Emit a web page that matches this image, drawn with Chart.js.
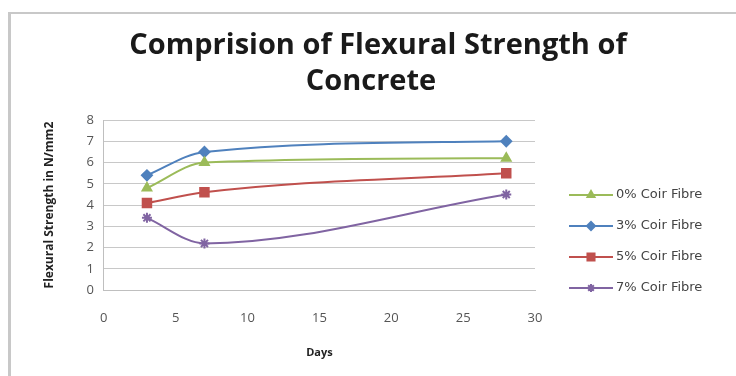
<!DOCTYPE html>
<html>
<head>
<meta charset="utf-8">
<script src="https://cdn.jsdelivr.net/npm/chart.js@4.4.0/dist/chart.umd.min.js"></script>
<style>
  html, body { margin: 0; padding: 0; background: #fff; }
  #wrap { position: relative; width: 736px; height: 376px; overflow: hidden; }
  #frame { position: absolute; left: 8px; top: 12px; right: -2px; bottom: -2px;
           border-left: 3px solid #c8c8c8; border-top: 2px solid #c8c8c8; }
  canvas { position: absolute; left: 0; top: 0; }
</style>
</head>
<body>
<div id="wrap">
  <div id="frame"></div>
  <canvas id="myChart" width="736" height="376"></canvas>
</div>
<script>
// data
const days = [3, 7, 28];
const coir0 = [4.8, 6.0, 6.2];
const coir3 = [5.4, 6.5, 7.0];
const coir5 = [4.1, 4.6, 5.5];
const coir7 = [3.4, 2.2, 4.5];
const seriesNames = ['0% Coir Fibre', '3% Coir Fibre', '5% Coir Fibre', '7% Coir Fibre'];
const titleLines = ['Comprision of Flexural Strength of', 'Concrete'];
const xTicks = [0, 5, 10, 15, 20, 25, 30];
const yTicks = [0, 1, 2, 3, 4, 5, 6, 7, 8];

function pts(vals) {
  return vals.map((v, i) => ({ x: days[i], y: v }));
}

// title + legend drawn by hand so they sit where the original has them
const extras = {
  id: 'extras',
  afterDraw(chart) {
    const c = chart.ctx;
    c.save();
    // title
    c.fillStyle = '#1a1a1a';
    c.font = 'bold 29px "Open Sans"';
    c.textAlign = 'center';
    c.textBaseline = 'alphabetic';
    c.fillText(titleLines[0], 378, 54);
    c.fillText(titleLines[1], 371, 90);

    // legend
    const sets = chart.data.datasets;
    const x0 = 569, len = 44, y0 = 195, gap = 31;
    c.font = '13px "DejaVu Sans"';
    c.textAlign = 'left';
    c.textBaseline = 'middle';
    sets.forEach((ds, i) => {
      const y = y0 + i * gap;
      c.strokeStyle = ds.borderColor;
      c.fillStyle = ds.borderColor;
      c.lineWidth = 2;
      c.beginPath();
      c.moveTo(x0, y);
      c.lineTo(x0 + len, y);
      c.stroke();
      Chart.helpers.drawPoint(c, {
        pointStyle: ds.pointStyle,
        radius: ds.pointRadius - 1,
        rotation: 0,
        borderWidth: 1
      }, x0 + len / 2, y);
      c.fillStyle = '#444';
      c.fillText(seriesNames[i], x0 + len + 3, y);
    });
    c.restore();
  }
};

const ctx = document.getElementById('myChart').getContext('2d');

function makeSet(i, vals, color, style, radius) {
  return {
    label: seriesNames[i],
    data: pts(vals),
    borderColor: color,
    backgroundColor: color,
    pointBackgroundColor: color,
    pointBorderColor: color,
    borderWidth: 2,
    pointStyle: style,
    pointRadius: radius,
    cubicInterpolationMode: 'monotone'
  };
}

const myChart = new Chart(ctx, {
  type: 'line',
  data: {
    datasets: [
      makeSet(0, coir0, '#9BBB59', 'triangle', 5),
      makeSet(1, coir3, '#4F81BD', 'rectRot', 5),
      makeSet(2, coir5, '#C0504D', 'rect', 6),
      makeSet(3, coir7, '#8064A2', 'star', 5)
    ]
  },
  options: {
    responsive: false,
    animation: false,
    layout: { padding: { left: 38, right: 201, top: 120, bottom: 17 } },
    plugins: {
      legend: { display: false },
      tooltip: { enabled: false },
      title: { display: false }
    },
    scales: {
      x: {
        type: 'linear',
        min: 0, max: 30,
        afterBuildTicks(axis) { axis.ticks = xTicks.map(v => ({ value: v })); },
        grid: { display: false, drawTicks: false },
        border: { display: true, color: '#bfbfbf' },
        ticks: { color: '#555', font: { family: 'Open Sans', size: 13 }, padding: 20 },
        title: { display: true, text: 'Days', color: '#222',
                 font: { family: 'Open Sans', size: 11, weight: 'bold' }, padding: { top: 0, bottom: 0 } }
      },
      y: {
        min: 0, max: 8,
        afterBuildTicks(axis) { axis.ticks = yTicks.map(v => ({ value: v })); },
        grid: { color: '#c8c8c8', drawTicks: false },
        border: { display: true, color: '#bfbfbf' },
        ticks: { color: '#555', font: { family: 'Open Sans', size: 13 }, padding: 10 },
        title: { display: true, text: 'Flexural Strength in N/mm2', color: '#222',
                 font: { family: 'Open Sans', size: 12, weight: 'bold' }, padding: { bottom: 20 } }
      }
    }
  },
  plugins: [extras]
});
</script>
</body>
</html>
